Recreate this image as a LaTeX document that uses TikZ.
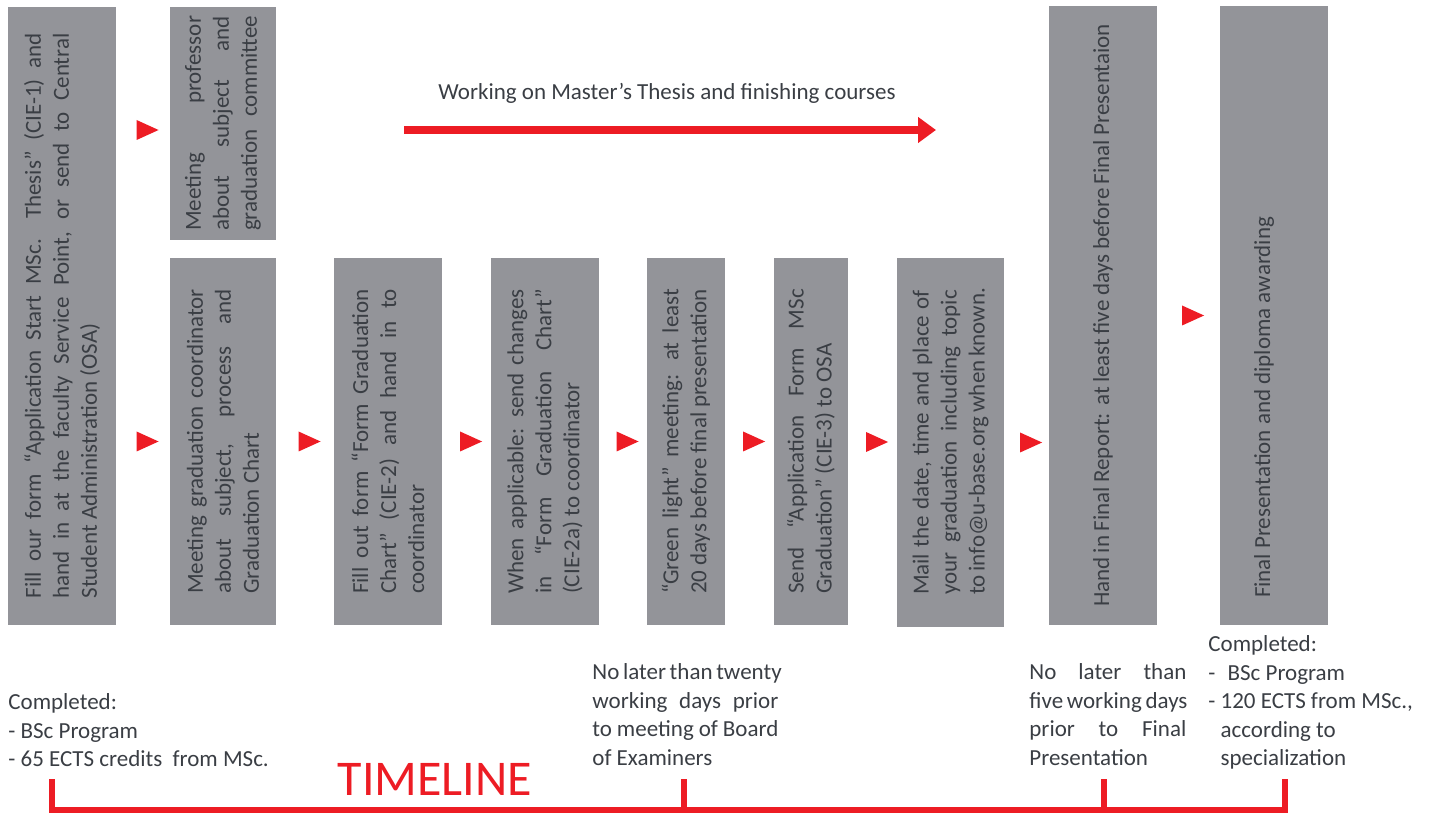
\documentclass[tikz,border=0pt]{standalone}
\usepackage{fontspec}
\setmainfont{Carlito}
\usepackage{graphicx}
\usetikzlibrary{arrows.meta, calc, shapes.geometric}
\definecolor{boxgray}{RGB}{147,148,153}
\definecolor{tlred}{RGB}{237,28,36}
\definecolor{txtgray}{RGB}{58,62,68}
\newcommand{\jl}[1]{\hbox to\hsize{\spaceskip=.28em plus 1fil minus .12em\relax #1}}
\newcommand{\vtext}[2]{\rotatebox{90}{\parbox{#1}{#2}}}

\begin{document}
\begin{tikzpicture}[
    x=0.5pt, y=-0.5pt,
    stage/.style={rectangle, fill=boxgray, inner sep=0pt, text=txtgray, font=\fontsize{11.5}{14}\selectfont},
    tri/.style={isosceles triangle, isosceles triangle stretches, shape border rotate=0, minimum width=10pt, minimum height=11pt, inner sep=0pt, fill=tlred},
    note/.style={text=txtgray, font=\fontsize{11.5}{14.2}\selectfont, inner sep=0pt, anchor=base west},
    tl/.style={draw=tlred, line width=3pt}
]
    \useasboundingbox (0,0) rectangle (1432,818);

    \node[stage, minimum width=54pt, minimum height=309pt] (b1) at (62,316) {\vtext{282.5pt}{%
        \jl{Fill our form “Application Start MSc. Thesis” (CIE-1) and}%
        \jl{hand in at the faculty Service Point, or send to Central}%
        \hbox{Student Administration (OSA)}}};
    \node[stage, minimum width=53pt, minimum height=116.5pt] (b2) at (223,123.5) {\vtext{107.5pt}{%
        \jl{Meeting professor}\jl{about subject and}\jl{graduation committee}}};
    \node[stage, minimum width=53pt, minimum height=183.5pt] (b3) at (223,441.5) {\vtext{152.5pt}{%
        \jl{Meeting graduation coordinator}\jl{about subject, process and}\hbox{Graduation Chart}}};
    \node[stage, minimum width=54pt, minimum height=183.5pt] (b4) at (388,441.5) {\vtext{152.5pt}{%
        \jl{Fill out form “Form Graduation}\jl{Chart” (CIE-2) and hand in to}\hbox{coordinator}}};
    \node[stage, minimum width=54pt, minimum height=183.5pt] (b5) at (545,441.5) {\vtext{152.5pt}{%
        \jl{When applicable: send changes}\jl{in “Form Graduation Chart”}\hbox{(CIE-2a) to coordinator}}};
    \node[stage, minimum width=39pt, minimum height=183.5pt] (b6) at (686,441.5) {\vtext{152.5pt}{%
        \jl{“Green light” meeting: at least}\jl{20 days before final presentation}}};
    \node[stage, minimum width=37pt, minimum height=183.5pt] (b7) at (811,441.5) {\vtext{152.5pt}{%
        \jl{Send “Application Form MSc}\hbox{Graduation” (CIE-3) to OSA}}};
    \node[stage, minimum width=53.5pt, minimum height=184.5pt] (b8) at (950.5,442.5) {\vtext{152.5pt}{%
        \jl{Mail the date, time and place of}\jl{your graduation including topic}\jl{to info@u-base.org when known.}}};
    \node[stage, minimum width=54pt, minimum height=309.5pt] (b9) at (1103,315.5) {\vtext{291.5pt}{%
        \jl{Hand in Final Report: at least five days before Final Presentaion}}};
    \node[stage, minimum width=54pt, minimum height=309.5pt] (b10) at (1274,315.5) {\vtext{282.5pt}{%
        \hbox to\hsize{Final Presentation and diploma awarding\hfil}\kern10pt}};

    \coordinate (ws) at (404,130);
    \coordinate (we) at (936,130);
    \draw[tlred, line width=4pt, -{Triangle[length=9pt, width=12.5pt]}] (ws) -- (we);
    \node[text=txtgray, font=\fontsize{11.5}{14}\selectfont] (wl) at (667,93) {Working on Master’s Thesis and finishing courses};

    \node[tri] (p1) at ($(b1.east |- ws)!.5!(b2.west |- ws)$) {};
    \node[tri] (p2) at ($(b1.east |- b3.west)!.5!(b3.west)$) {};
    \foreach \a/\b [count=\i from 3] in {b3/b4, b4/b5, b5/b6, b6/b7, b7/b8}
        \node[tri] (p\i) at ($(\a.east)!.5!(\b.west)$) {};
    \node[tri] (p8) at ($(b8.east)!.5!(b9.west |- b8.east)$) {};
    \node[tri] (p9) at ($(b9.east)!.5!(b10.west)$) {};

    \node[note] (n1) at (8,710) {\parbox[t]{150pt}{%
        \hbox{Completed:}\hbox{- BSc Program}\hbox{- 65 ECTS credits\ \ from MSc.}}};
    \node[note] (n2) at (592,680) {\parbox[t]{93pt}{%
        \jl{No later than twenty}\jl{working days prior}\jl{to meeting of Board}\hbox{of Examiners}}};
    \node[note] (n3) at (1029,680) {\parbox[t]{78.5pt}{%
        \jl{No later than}\jl{five working days}\jl{prior to Final}\hbox{Presentation}}};
    \node[note] (n4) at (1208,652) {\parbox[t]{100pt}{%
        \hbox{Completed:}\hbox{-\ \kern3.5pt BSc Program}\hbox{- 120 ECTS from MSc.,}%
        \hbox{\phantom{- }according to}\hbox{\phantom{- }specialization}}};

    \node[text=tlred, font=\fontsize{25}{30}\selectfont, anchor=base] (tt) at (435,795) {TIMELINE};

    \coordinate (t1) at (52,779);
    \coordinate (t2) at (684,779);
    \coordinate (t3) at (1104,779);
    \coordinate (t4) at (1285,779);
    \draw[tl] (t1) -- ++(0,31) -| (t4);
    \draw[tl] (t2) -- ++(0,31);
    \draw[tl] (t3) -- ++(0,31);
\end{tikzpicture}
\end{document}
